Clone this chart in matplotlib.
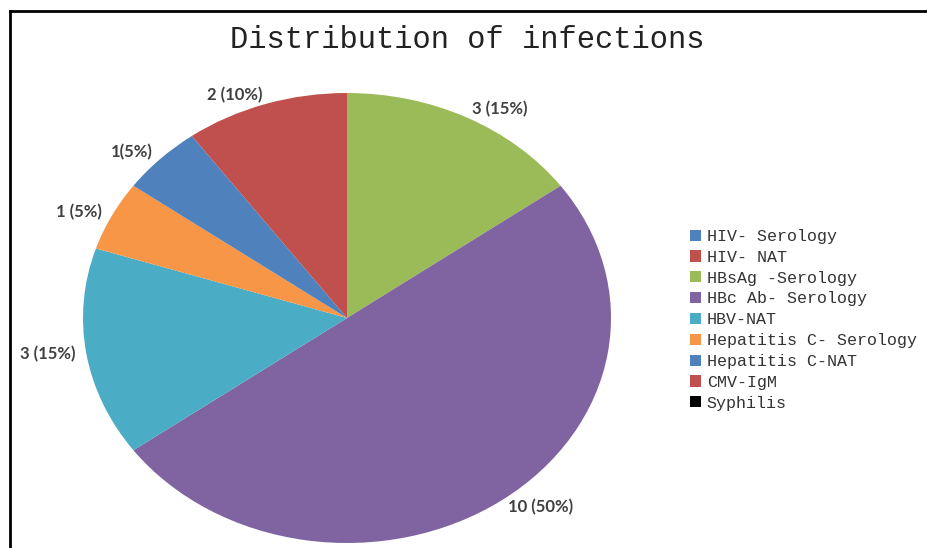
import matplotlib
matplotlib.use('Agg')
import numpy as np
import matplotlib.pyplot as plt
from matplotlib.patches import Patch
from matplotlib.lines import Line2D

categories = ['HIV- Serology', 'HIV- NAT', 'HBsAg -Serology', 'HBc Ab- Serology',
              'HBV-NAT', 'Hepatitis C- Serology', 'Hepatitis C-NAT', 'CMV-IgM', 'Syphilis']
counts = [0, 0, 3, 10, 3, 1, 1, 2, 0]
slice_labels = ['', '', '3 (15%)', '10 (50%)', '3 (15%)', '1 (5%)', '1(5%)', '2 (10%)', '']
colors = ['#4F81BD', '#C0504D', '#9BBB59', '#8064A2', '#4BACC6',
          '#F79646', '#4F81BD', '#C0504D', '#000000']

fig = plt.figure(figsize=(9.28, 5.48), dpi=100)
fig.patch.set_facecolor('white')

# pie is stretched into an ellipse like the original
ax = fig.add_axes([83/928, 5/548, 528/928, 450/548])
wedges, _ = ax.pie(counts, colors=colors, startangle=90, counterclock=False,
                   wedgeprops=dict(linewidth=0))
ax.set_aspect('auto')
ax.set_xlim(-1, 1)
ax.set_ylim(-1, 1)

# outside-end labels, anchored just off the rim
for w, lab in zip(wedges, slice_labels):
    if not lab:
        continue
    ang = np.deg2rad((w.theta1 + w.theta2) / 2)
    c, s = np.cos(ang), np.sin(ang)
    ha = 'left' if c > 0 else 'right'
    ax.text(1.04 * c, 1.04 * s, lab, ha=ha, va='center', fontsize=12, fontweight='bold',
            color='#404040', family='Lato', clip_on=False)

fig.text(0.503, 1 - 40/548, 'Distribution of infections', ha='center', va='center',
         fontsize=22, family='Liberation Mono', color='#222222')

handles = [Patch(facecolor=c, edgecolor='none') for c in colors]
fig.legend(handles, categories, loc='upper left', bbox_to_anchor=(690/928, 1 - 229/548),
           frameon=False, borderpad=0, borderaxespad=0, handlelength=0.65, handleheight=0.65,
           handletextpad=0.35, labelspacing=0.35,
           prop=dict(family='Liberation Mono', size=12), labelcolor='#333333')

# frame lines on top and left edges
fig.add_artist(Line2D([10/928, 1], [1 - 11/548, 1 - 11/548], color='black', lw=2,
                      transform=fig.transFigure))
fig.add_artist(Line2D([10/928, 10/928], [0, 1 - 11/548], color='black', lw=2,
                      transform=fig.transFigure))

plt.savefig('out.png', dpi=100)
